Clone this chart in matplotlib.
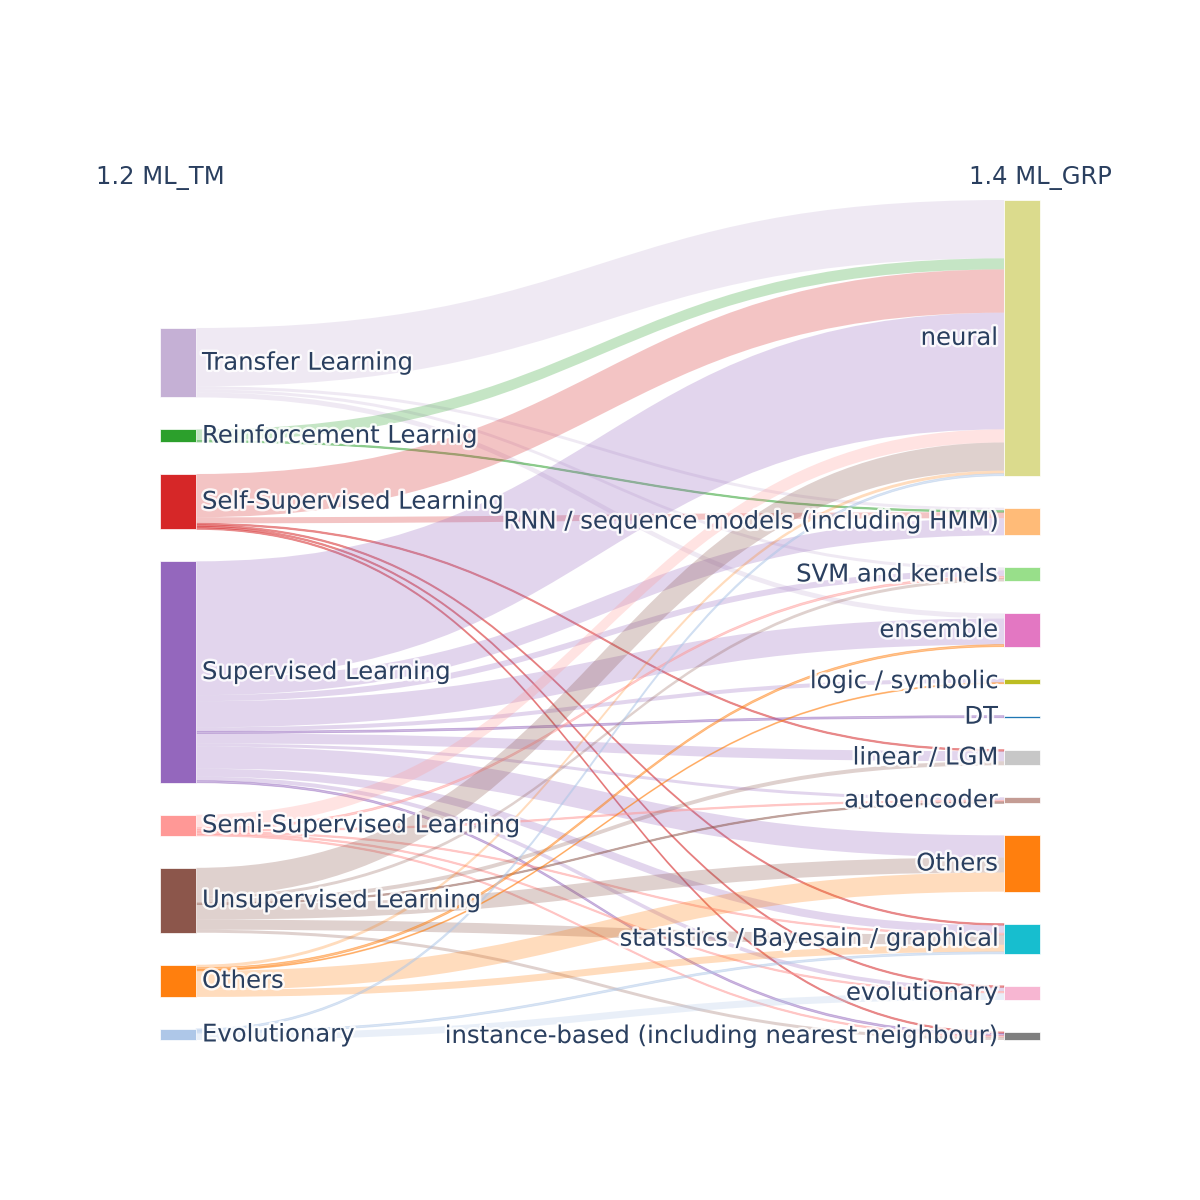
import matplotlib
matplotlib.use("Agg")
import matplotlib.pyplot as plt
from matplotlib.path import Path
from matplotlib.patches import PathPatch, Rectangle
import matplotlib.patheffects as pe

plt.rcParams['font.family'] = ['DejaVu Sans']

# nodes (column 1.2 ML_TM on the left, 1.4 ML_GRP on the right)
left_nodes = ['Transfer Learning', 'Reinforcement Learnig', 'Self-Supervised Learning',
              'Supervised Learning', 'Semi-Supervised Learning', 'Unsupervised Learning',
              'Others', 'Evolutionary']
left_colors = ['#c5b0d5', '#2ca02c', '#d62728', '#9467bd', '#ff9896', '#8c564b',
               '#ff7f0e', '#aec7e8']
right_nodes = ['neural', 'RNN / sequence models (including HMM)', 'SVM and kernels',
               'ensemble', 'logic / symbolic', 'DT', 'linear / LGM', 'autoencoder',
               'Others', 'statistics / Bayesain / graphical', 'evolutionary',
               'instance-based (including nearest neighbour)']
right_colors = ['#dbdb8d', '#ffbb78', '#98df8a', '#e377c2', '#bcbd22', '#1f77b4',
                '#c7c7c7', '#c49c94', '#ff7f0e', '#17becf', '#f7b6d2', '#7f7f7f']

# links: source index, target index, value
src = [0, 0, 0, 0,
       1, 1,
       2, 2, 2, 2, 2, 2,
       3, 3, 3, 3, 3, 3, 3, 3, 3, 3, 3, 3,
       4, 4, 4, 4, 4, 4,
       5, 5, 5, 5, 5, 5, 5,
       6, 6, 6, 6, 6,
       7, 7, 7]
tgt = [0, 1, 2, 3,
       0, 1,
       0, 1, 6, 9, 10, 11,
       0, 1, 2, 3, 4, 5, 6, 7, 8, 9, 10, 11,
       0, 2, 7, 9, 10, 11,
       0, 2, 6, 7, 8, 9, 11,
       0, 3, 4, 8, 9,
       0, 9, 10]
val = [58, 3, 3, 5,
       11, 1.5,
       43, 6, 1.5, 1.5, 1.5, 1.5,
       116, 17, 6, 26, 4, 2, 10, 3, 22, 8, 4, 2,
       13, 2, 1.5, 1.5, 1.5, 1.5,
       28, 3, 4, 1.5, 15, 10, 3,
       3, 2, 1, 19, 7,
       2, 2, 7]

titles = ['1.2 ML_TM', '1.4 ML_GRP']

# ---- layout (plot domain in pixels, y downwards) ----
W = H = 1200
dom_x0, dom_x1 = 160, 1040
dom_y0, dom_y1 = 200, 1040
thick = 36
pad = 32

left_tot = [sum(v for s, v in zip(src, val) if s == i) for i in range(len(left_nodes))]
right_tot = [sum(v for t, v in zip(tgt, val) if t == j) for j in range(len(right_nodes))]

ky = min((dom_y1 - dom_y0 - (len(left_nodes) - 1) * pad) / sum(left_tot),
         (dom_y1 - dom_y0 - (len(right_nodes) - 1) * pad) / sum(right_tot))

# right column stacked from top, left column settles at bottom
right_y = []
y = dom_y0
for t in right_tot:
    right_y.append(y)
    y += t * ky + pad
left_y = []
y = dom_y1 - (sum(left_tot) * ky + (len(left_nodes) - 1) * pad)
for t in left_tot:
    left_y.append(y)
    y += t * ky + pad

xl = dom_x0
xr = dom_x1 - thick

fig = plt.figure(figsize=(12, 12), dpi=100)
ax = fig.add_axes([0, 0, 1, 1])
ax.set_xlim(0, W)
ax.set_ylim(H, 0)
ax.axis('off')

# offsets of each link at source / target
order = list(range(len(val)))
src_off = {}
for i in range(len(left_nodes)):
    y = left_y[i]
    for k in sorted([k for k in order if src[k] == i], key=lambda k: tgt[k]):
        src_off[k] = y
        y += val[k] * ky
tgt_off = {}
for j in range(len(right_nodes)):
    y = right_y[j]
    for k in sorted([k for k in order if tgt[k] == j], key=lambda k: src[k]):
        tgt_off[k] = y
        y += val[k] * ky

x0 = xl + thick
x1 = xr
xm = (x0 + x1) / 2
for k in order:
    w = val[k] * ky
    ya, yb = src_off[k], tgt_off[k]
    verts = [(x0, ya), (xm, ya), (xm, yb), (x1, yb),
             (x1, yb + w), (xm, yb + w), (xm, ya + w), (x0, ya + w), (x0, ya)]
    codes = [Path.MOVETO, Path.CURVE4, Path.CURVE4, Path.CURVE4,
             Path.LINETO, Path.CURVE4, Path.CURVE4, Path.CURVE4, Path.CLOSEPOLY]
    if w > 3:
        ax.add_patch(PathPatch(Path(verts, codes), facecolor=left_colors[src[k]],
                               edgecolor='none', alpha=0.27, zorder=1))
    else:
        # thin links: keep them visible
        ax.add_patch(PathPatch(Path(verts, codes), facecolor=left_colors[src[k]],
                               edgecolor=left_colors[src[k]], linewidth=0.6,
                               alpha=0.45, zorder=1))

halo = [pe.withStroke(linewidth=3.5, foreground='white', alpha=0.85)]
fs = 17.5
tc = '#2a3f5f'

for i, name in enumerate(left_nodes):
    h = left_tot[i] * ky
    ax.add_patch(Rectangle((xl, left_y[i]), thick, h, facecolor=left_colors[i],
                           edgecolor='white', linewidth=0.5, zorder=2))
    ax.text(xl + thick + 6, left_y[i] + h / 2, name, ha='left', va='center',
            fontsize=fs, color=tc, path_effects=halo, zorder=3)

for j, name in enumerate(right_nodes):
    h = right_tot[j] * ky
    ax.add_patch(Rectangle((xr, right_y[j]), thick, h, facecolor=right_colors[j],
                           edgecolor='white', linewidth=0.5, zorder=2))
    ax.text(xr - 6, right_y[j] + h / 2, name, ha='right', va='center',
            fontsize=fs, color=tc, path_effects=halo, zorder=3)

ax.text(dom_x0, 178, titles[0], ha='center', va='center', fontsize=17.5, color=tc)
ax.text(dom_x1, 178, titles[1], ha='center', va='center', fontsize=17.5, color=tc)

fig.savefig('out.png', dpi=100, facecolor='white')
